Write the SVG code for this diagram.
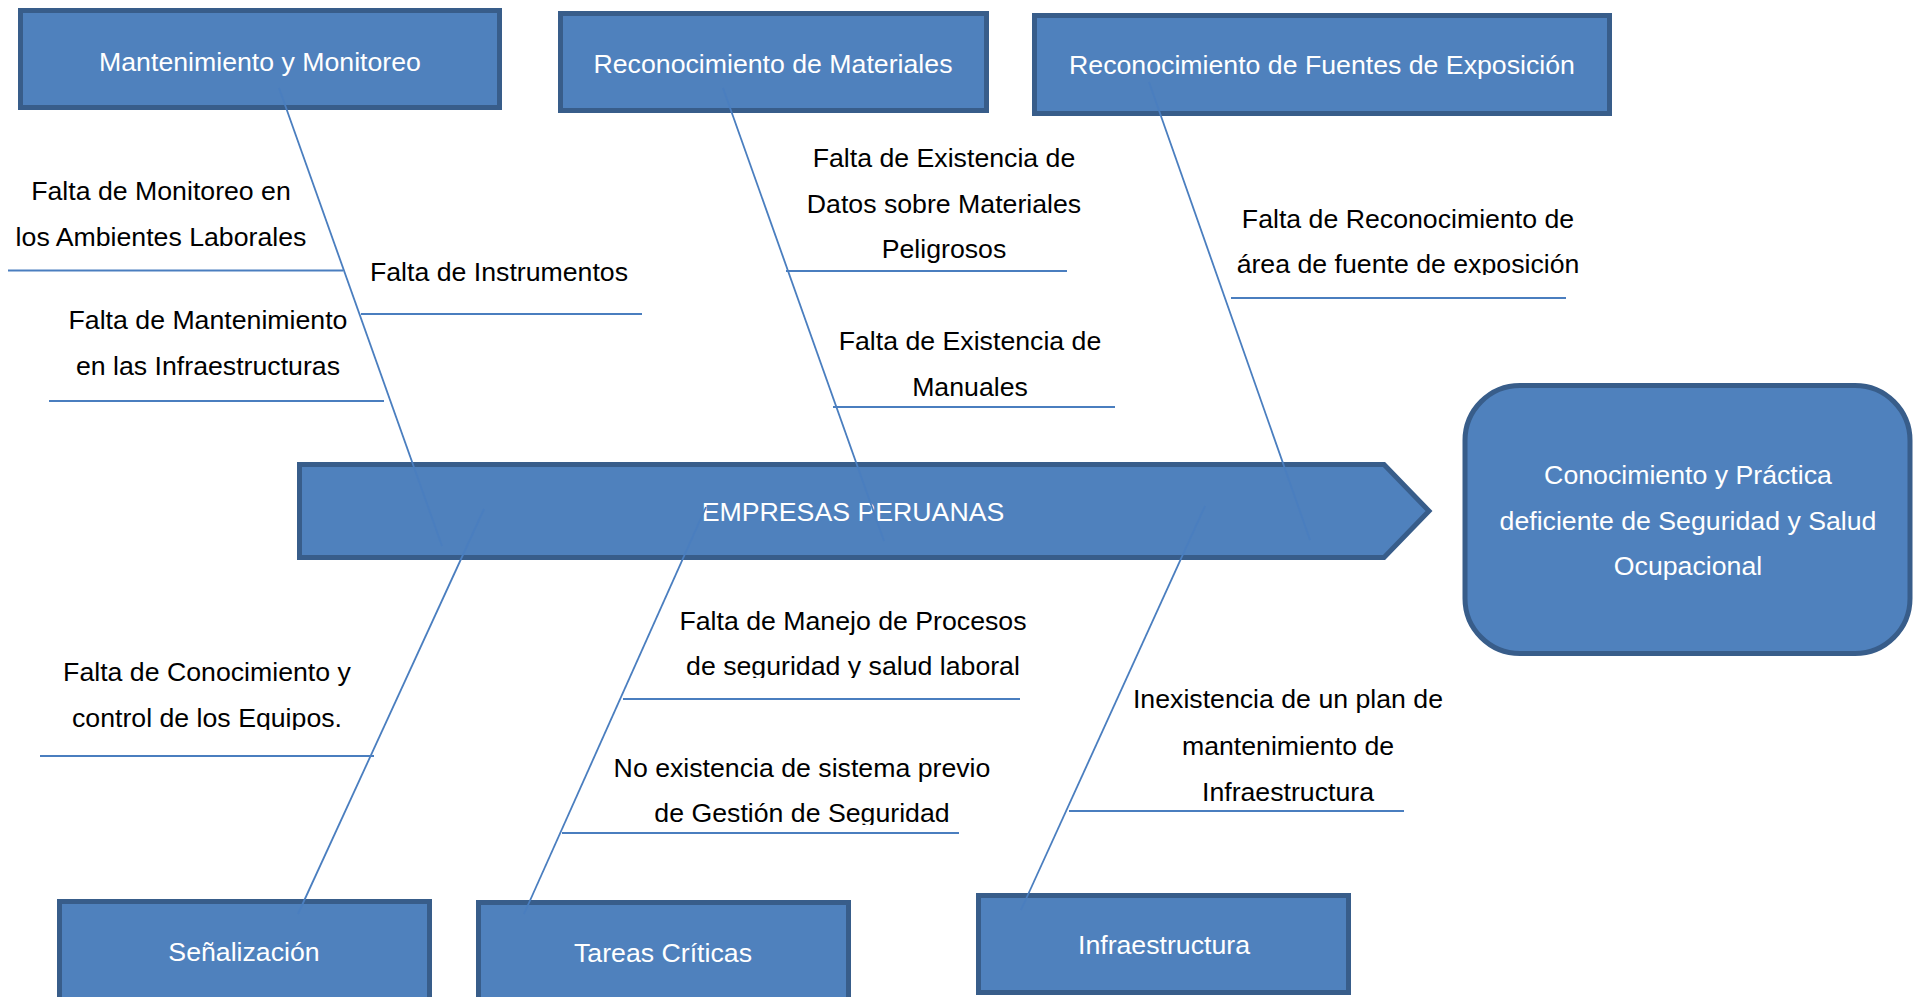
<svg xmlns="http://www.w3.org/2000/svg" width="1914" height="997" viewBox="0 0 1914 997">
<style>
.box{fill:#4f81bd;stroke:#385d8a;stroke-width:5}
.wt{fill:#ffffff;font-family:"Liberation Sans",Arial,sans-serif;font-size:26.7px;text-anchor:middle}
.bt{fill:#000000;font-family:"Liberation Sans",Arial,sans-serif;font-size:26.7px;text-anchor:middle}
.bone{stroke:#4a7ebf;stroke-width:1.8;fill:none}
.ul{stroke:#4a7ebf;stroke-width:2.2;fill:none}
</style>
<defs>
<clipPath id="c6" clipPathUnits="userSpaceOnUse"><rect x="1200" y="240" width="420" height="35"/></clipPath>
<clipPath id="c7" clipPathUnits="userSpaceOnUse"><rect x="0" y="695" width="420" height="35"/></clipPath>
<clipPath id="c8" clipPathUnits="userSpaceOnUse"><rect x="600" y="643" width="500" height="35"/></clipPath>
<clipPath id="c9" clipPathUnits="userSpaceOnUse"><rect x="550" y="790" width="500" height="35"/></clipPath>
</defs>
<rect width="1914" height="997" fill="#ffffff"/>
<g id="box-mantenimiento"><rect class="box" x="20.5" y="10.5" width="479" height="97"/><text class="wt" x="260" y="70.5">Mantenimiento y Monitoreo</text></g>
<g id="box-materiales"><rect class="box" x="560.5" y="13.5" width="426" height="97"/><text class="wt" x="773" y="73">Reconocimiento de Materiales</text></g>
<g id="box-fuentes"><rect class="box" x="1034.5" y="15.5" width="575" height="98"/><text class="wt" x="1322" y="74">Reconocimiento de Fuentes de Exposición</text></g>
<g id="spine"><path class="box" d="M299.5,464.5 L1384,464.5 L1429,511 L1384,557.5 L299.5,557.5 Z"/><text class="wt" x="853" y="521">EMPRESAS PERUANAS</text></g>
<g id="effect"><rect class="box" x="1465" y="385.5" width="445" height="268" rx="55" ry="55"/><text class="wt" x="1688" y="484">Conocimiento y Práctica</text><text class="wt" x="1688" y="530">deficiente de Seguridad y Salud</text><text class="wt" x="1688" y="575">Ocupacional</text></g>
<g id="box-senalizacion"><rect class="box" x="59.5" y="901.5" width="370" height="120"/><text class="wt" x="244" y="961">Señalización</text></g>
<g id="box-tareas"><rect class="box" x="478.5" y="902.5" width="370" height="120"/><text class="wt" x="663" y="961.5">Tareas Críticas</text></g>
<g id="box-infraestructura"><rect class="box" x="978.5" y="895.5" width="370" height="97"/><text class="wt" x="1164" y="954">Infraestructura</text></g>
<g id="labels">
<text class="bt" x="161" y="200">Falta de Monitoreo en</text>
<text class="bt" x="161" y="246">los Ambientes Laborales</text>
<text class="bt" x="499" y="281">Falta de Instrumentos</text>
<text class="bt" x="208" y="329">Falta de Mantenimiento</text>
<text class="bt" x="208" y="375">en las Infraestructuras</text>
<text class="bt" x="944" y="167">Falta de Existencia de</text>
<text class="bt" x="944" y="213">Datos sobre Materiales</text>
<text class="bt" x="944" y="258">Peligrosos</text>
<text class="bt" x="970" y="350">Falta de Existencia de</text>
<text class="bt" x="970" y="396">Manuales</text>
<text class="bt" x="1408" y="228">Falta de Reconocimiento de</text>
<text class="bt" x="1408" y="273" clip-path="url(#c6)">área de fuente de exposición</text>
<text class="bt" x="207" y="681">Falta de Conocimiento y</text>
<text class="bt" x="207" y="727" clip-path="url(#c7)">control de los Equipos.</text>
<text class="bt" x="853" y="630">Falta de Manejo de Procesos</text>
<text class="bt" x="853" y="675" clip-path="url(#c8)">de seguridad y salud laboral</text>
<text class="bt" x="802" y="777">No existencia de sistema previo</text>
<text class="bt" x="802" y="822" clip-path="url(#c9)">de Gestión de Seguridad</text>
<text class="bt" x="1288" y="708">Inexistencia de un plan de</text>
<text class="bt" x="1288" y="755">mantenimiento de</text>
<text class="bt" x="1288" y="801">Infraestructura</text>
</g>
<g id="connectors">
<line class="bone" x1="279" y1="88" x2="442" y2="546"/>
<line class="bone" x1="723" y1="88" x2="884" y2="541"/>
<line class="bone" x1="1149" y1="82" x2="1310" y2="540"/>
<line class="bone" x1="484" y1="509" x2="298" y2="914"/>
<line class="bone" x1="706" y1="507" x2="524" y2="914"/>
<line class="bone" x1="1205" y1="506" x2="1021" y2="910"/>
<line class="ul" x1="8" y1="270.5" x2="343" y2="270.5"/>
<line class="ul" x1="361" y1="314" x2="642" y2="314"/>
<line class="ul" x1="49" y1="401" x2="384" y2="401"/>
<line class="ul" x1="786" y1="271" x2="1067" y2="271"/>
<line class="ul" x1="833" y1="407" x2="1115" y2="407"/>
<line class="ul" x1="1231" y1="298" x2="1566" y2="298"/>
<line class="ul" x1="40" y1="756" x2="374" y2="756"/>
<line class="ul" x1="623" y1="699" x2="1020" y2="699"/>
<line class="ul" x1="562" y1="833" x2="959" y2="833"/>
<line class="ul" x1="1069" y1="811" x2="1404" y2="811"/>
</g>
</svg>
